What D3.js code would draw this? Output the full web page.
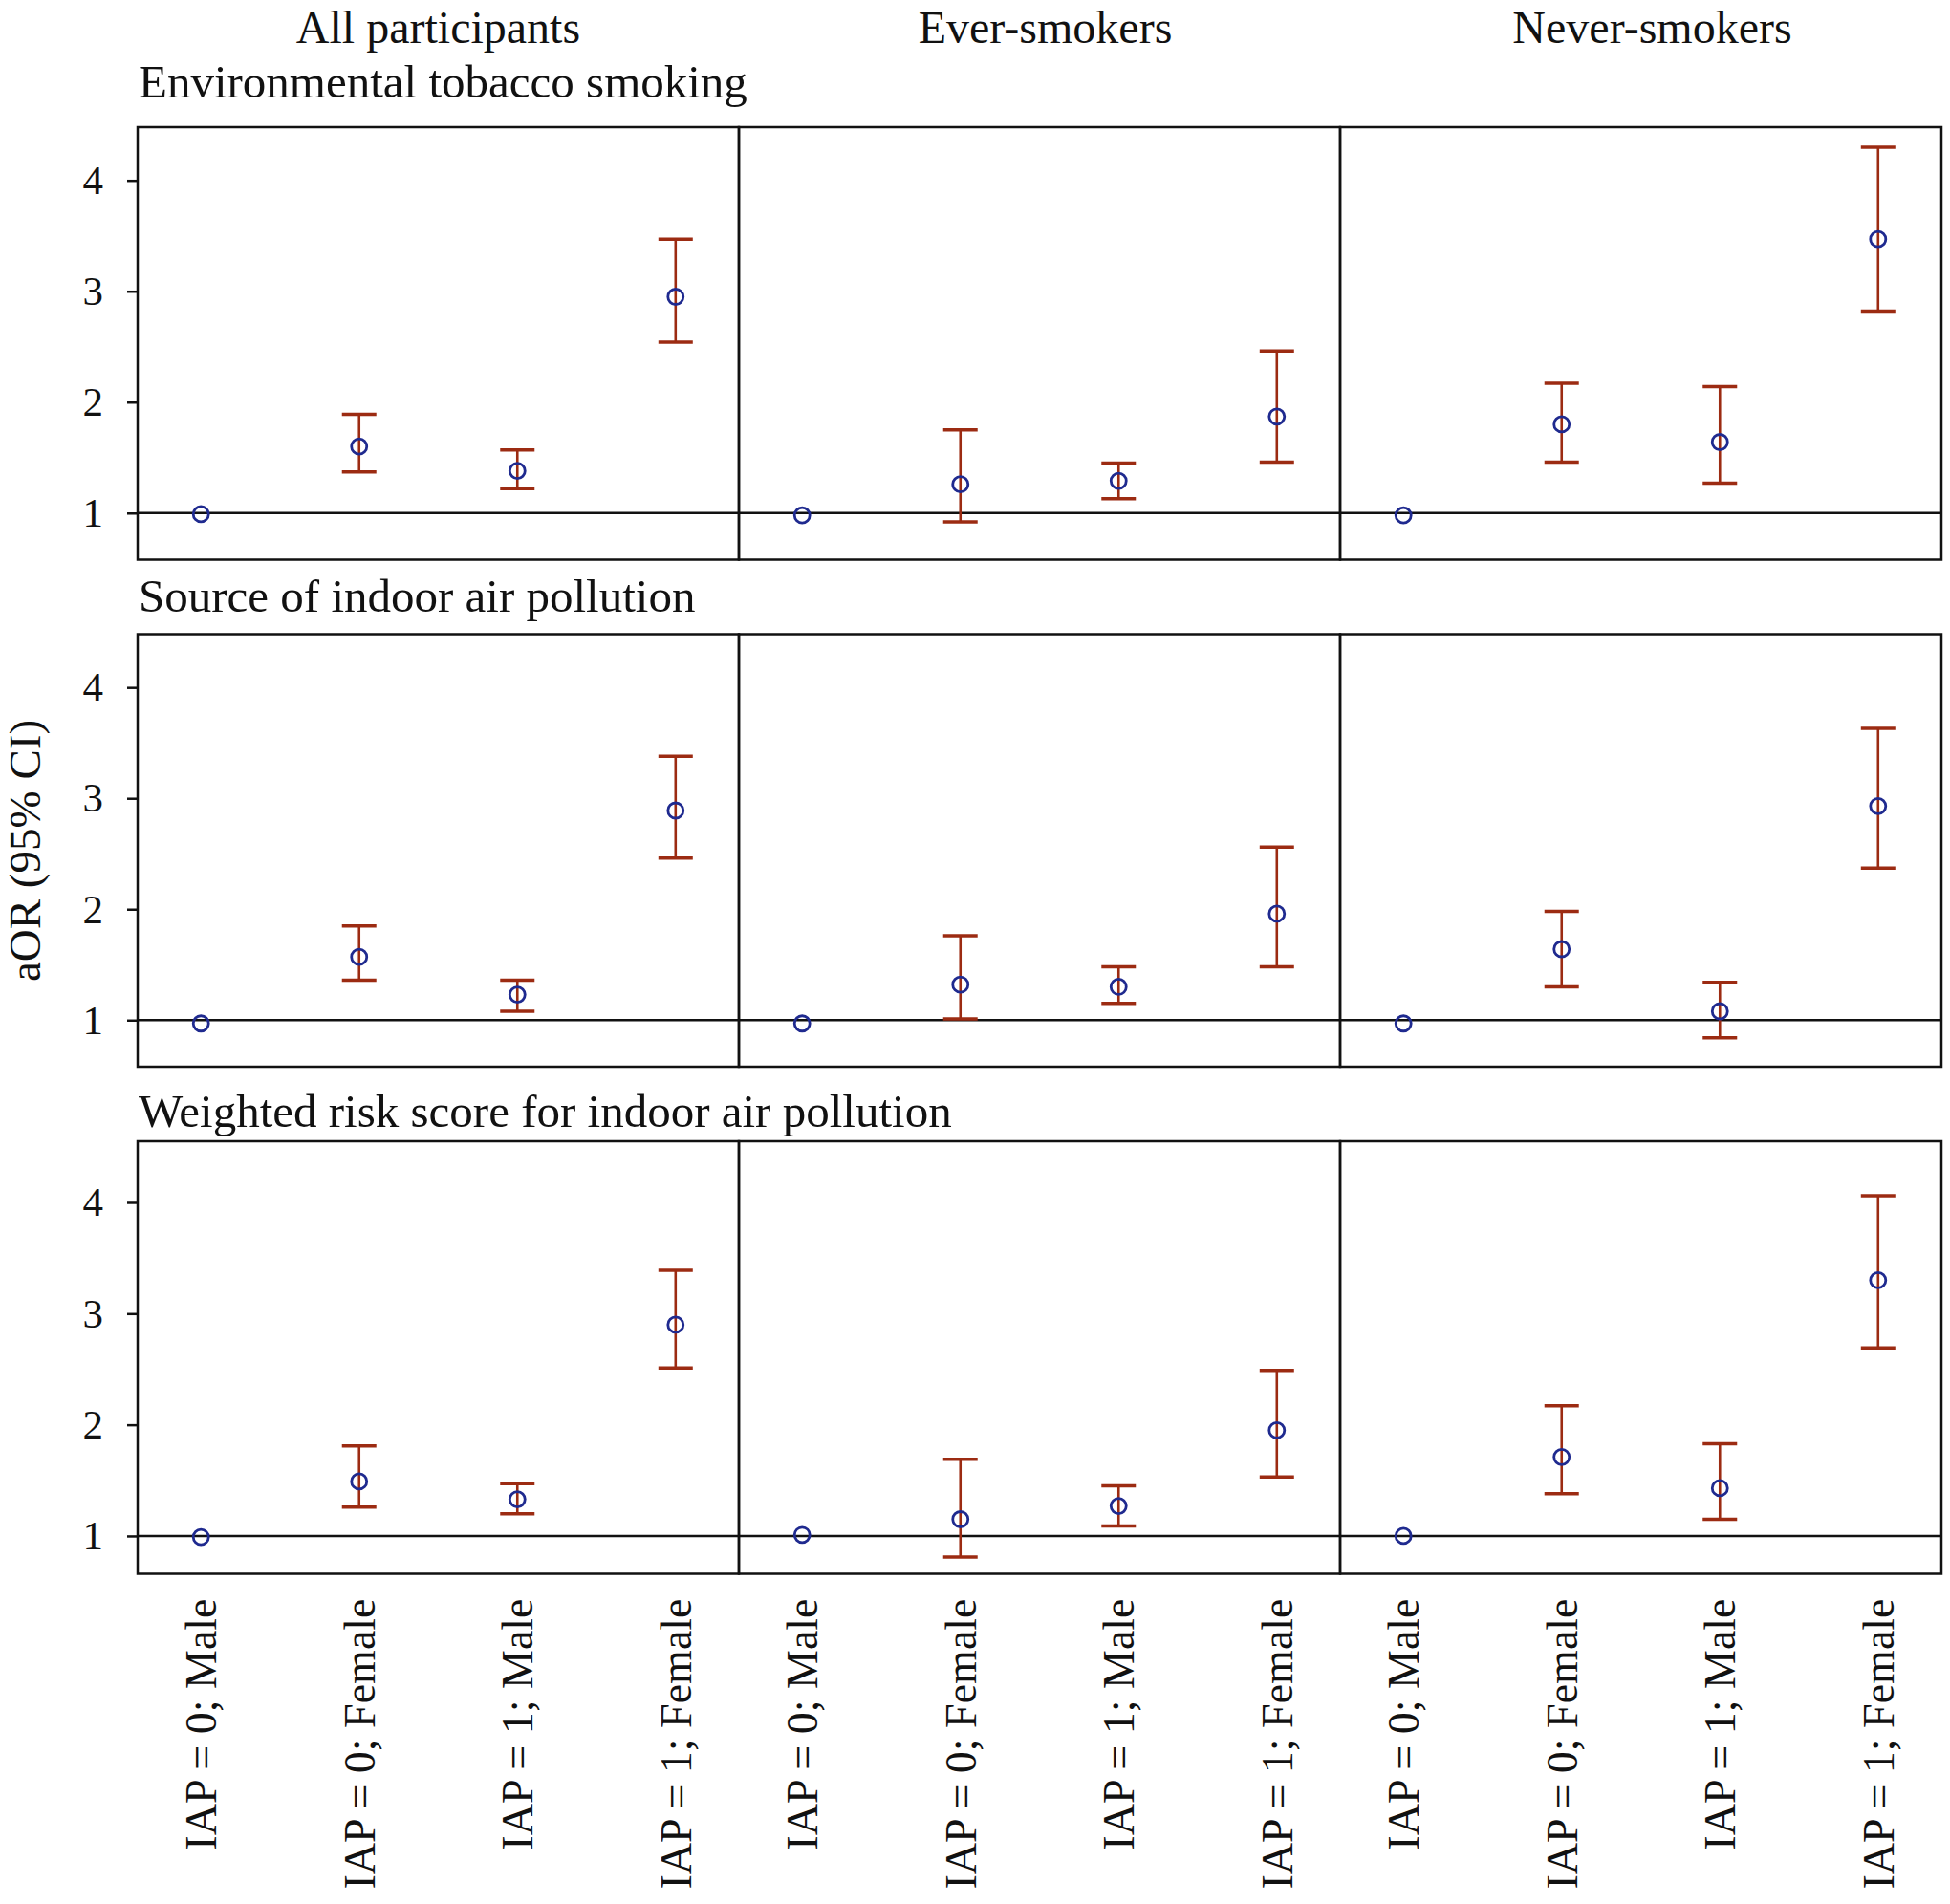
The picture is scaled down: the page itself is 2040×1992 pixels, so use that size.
<!DOCTYPE html>
<html>
<head>
<meta charset="utf-8">
<script src="https://cdn.jsdelivr.net/npm/d3@7"></script>
<style>
  body { margin: 0; background: #fff; }
  svg text { font-family: "Liberation Serif", "DejaVu Serif", serif; fill: #111; }
</style>
</head>
<body>
<svg id="chart"></svg>
<script>
// subgroups across the top, exposures down the side
const columns = ["All participants", "Ever-smokers", "Never-smokers"];
const rows = ["Environmental tobacco smoking", "Source of indoor air pollution", "Weighted risk score for indoor air pollution"];
const groups = ["IAP = 0; Male", "IAP = 0; Female", "IAP = 1; Male", "IAP = 1; Female"];
const yTicks = [1, 2, 3, 4];

// aOR and 95% CI, one array per column, in the order of groups (reference has no CI)
const etsOR    = [[0.99, 1.60, 1.38, 2.95], [0.98, 1.26, 1.29, 1.87], [0.98, 1.80, 1.64, 3.47]];
const etsLower = [[null, 1.37, 1.22, 2.54], [null, 0.92, 1.13, 1.46], [null, 1.46, 1.27, 2.82]];
const etsUpper = [[null, 1.89, 1.57, 3.47], [null, 1.75, 1.45, 2.46], [null, 2.17, 2.14, 4.30]];

const sourceOR    = [[0.97, 1.57, 1.23, 2.89], [0.97, 1.32, 1.30, 1.96], [0.97, 1.64, 1.08, 2.93]];
const sourceLower = [[null, 1.36, 1.08, 2.46], [null, 1.01, 1.15, 1.48], [null, 1.30, 0.84, 2.37]];
const sourceUpper = [[null, 1.85, 1.36, 3.38], [null, 1.76, 1.48, 2.56], [null, 1.98, 1.34, 3.63]];

const weightedOR    = [[0.99, 1.49, 1.33, 2.90], [1.01, 1.15, 1.27, 1.95], [1.00, 1.71, 1.43, 3.30]];
const weightedLower = [[null, 1.26, 1.20, 2.51], [null, 0.81, 1.09, 1.53], [null, 1.38, 1.15, 2.69]];
const weightedUpper = [[null, 1.81, 1.47, 3.39], [null, 1.69, 1.45, 2.49], [null, 2.17, 1.83, 4.06]];

const rowData = [
  { or: etsOR, lo: etsLower, hi: etsUpper },
  { or: sourceOR, lo: sourceLower, hi: sourceUpper },
  { or: weightedOR, lo: weightedLower, hi: weightedUpper }
];

const width = 2040, height = 1992;
const left = 144, right = 2031;
const panelW = (right - left) / 3;
const panelH = 452.5;
const rowTops = [133, 663.5, 1194];
const rowTitleY = [102, 640, 1179];
const yDomains = [[0.58, 4.48], [0.58, 4.48], [0.66, 4.55]];
const colTitleShift = [0, 6, 12];

const pointColor = "#1f2a8f";
const barColor = "#9c2b12";
const capHalf = 18;

const svg = d3.select('#chart')
  .attr('width', width)
  .attr('height', height);

const x = d3.scalePoint()
  .domain(groups)
  .range([0, panelW])
  .padding(0.4);

// column headers
svg.selectAll('.col-title')
  .data(columns)
  .enter()
  .append('text')
  .attr('class', 'col-title')
  .attr('x', (d, i) => left + panelW * i + panelW / 2 + colTitleShift[i])
  .attr('y', 45)
  .attr('text-anchor', 'middle')
  .style('font-size', '48px')
  .text(d => d);

rows.forEach((rowName, r) => {
  const top = rowTops[r];
  const y = d3.scaleLinear()
    .domain(yDomains[r])
    .range([top + panelH, top]);

  svg.append('text')
    .attr('x', left + 1)
    .attr('y', rowTitleY[r])
    .style('font-size', '49px')
    .text(rowName);

  const yAxis = svg.append('g')
    .attr('transform', `translate(${left},0)`)
    .call(d3.axisLeft(y).tickValues(yTicks).tickSize(11).tickPadding(25).tickFormat(d3.format('d')));
  yAxis.select('.domain').remove();
  yAxis.selectAll('.tick line').attr('stroke', '#111').attr('stroke-width', 2.5);
  yAxis.selectAll('.tick text')
    .style('font-size', '43px')
    .style('font-family', '"Liberation Serif", "DejaVu Serif", serif')
    .attr('fill', '#111');

  columns.forEach((colName, c) => {
    const x0 = left + panelW * c;
    const g = svg.append('g').attr('transform', `translate(${x0},0)`);

    // reference line at aOR = 1
    g.append('line')
      .attr('x1', 0)
      .attr('x2', panelW)
      .attr('y1', y(1))
      .attr('y2', y(1))
      .attr('stroke', '#111')
      .attr('stroke-width', 2.5);

    const pts = groups.map((grp, i) => ({
      grp: grp,
      or: rowData[r].or[c][i],
      lo: rowData[r].lo[c][i],
      hi: rowData[r].hi[c][i]
    }));
    const withCI = pts.filter(d => d.lo !== null);

    g.selectAll('.ci')
      .data(withCI)
      .enter()
      .append('line')
      .attr('class', 'ci')
      .attr('x1', d => x(d.grp))
      .attr('x2', d => x(d.grp))
      .attr('y1', d => y(d.lo))
      .attr('y2', d => y(d.hi))
      .attr('stroke', barColor)
      .attr('stroke-width', 2.6);

    ['lo', 'hi'].forEach(k => {
      g.selectAll('.cap-' + k)
        .data(withCI)
        .enter()
        .append('line')
        .attr('class', 'cap-' + k)
        .attr('x1', d => x(d.grp) - capHalf)
        .attr('x2', d => x(d.grp) + capHalf)
        .attr('y1', d => y(d[k]))
        .attr('y2', d => y(d[k]))
        .attr('stroke', barColor)
        .attr('stroke-width', 3.5);
    });

    g.selectAll('.pt')
      .data(pts)
      .enter()
      .append('circle')
      .attr('class', 'pt')
      .attr('cx', d => x(d.grp))
      .attr('cy', d => y(d.or))
      .attr('r', 8)
      .attr('fill', 'none')
      .attr('stroke', pointColor)
      .attr('stroke-width', 2.8);

    // panel frame
    g.append('rect')
      .attr('x', 0)
      .attr('y', top)
      .attr('width', panelW)
      .attr('height', panelH)
      .attr('fill', 'none')
      .attr('stroke', '#111')
      .attr('stroke-width', 2.5);
  });
});

// x labels under the bottom row
const labelTop = rowTops[2] + panelH + 26;
columns.forEach((colName, c) => {
  const x0 = left + panelW * c;
  svg.selectAll('.xlab-' + c)
    .data(groups)
    .enter()
    .append('text')
    .attr('class', 'xlab-' + c)
    .attr('transform', d => `translate(${x0 + x(d)},${labelTop}) rotate(-90)`)
    .attr('text-anchor', 'end')
    .attr('dy', '0.35em')
    .style('font-size', '46px')
    .text(d => d);
});

// y axis title
svg.append('text')
  .attr('transform', `translate(26,890) rotate(-90)`)
  .attr('text-anchor', 'middle')
  .attr('dy', '0.35em')
  .style('font-size', '47px')
  .text('aOR (95% CI)');
</script>
</body>
</html>
